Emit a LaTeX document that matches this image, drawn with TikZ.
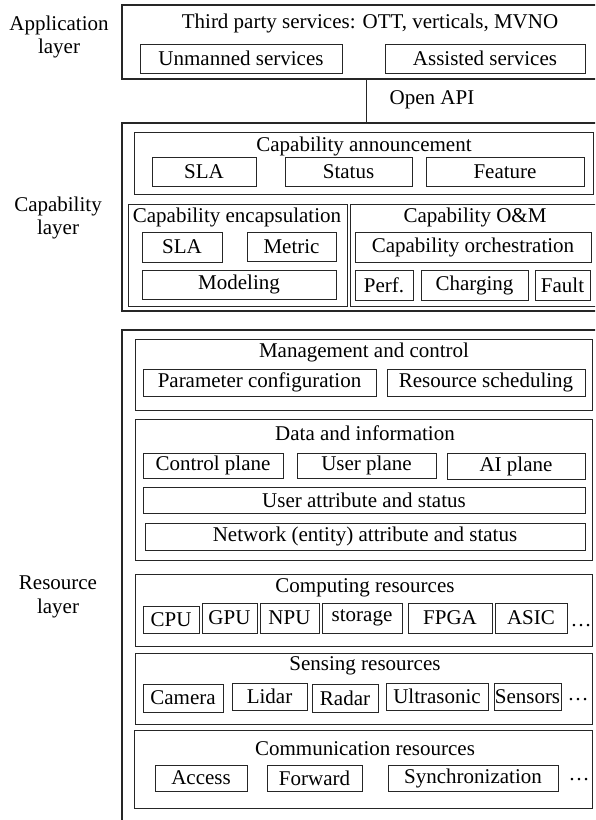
\documentclass[tikz,border=0pt]{standalone}
\usepackage{fontspec}
\setmainfont{Liberation Serif}
% box named #2 from (#3,#4) to (#5,#6), y counted downwards
\newcommand\rbox[7][]{%
  \node[bx,#1,minimum width={((#5)-(#3))*1pt},minimum height={((#6)-(#4))*1pt}]
    (#2) at ({((#3)+(#5))/2},{((#4)+(#6))/2}) {#7};}
\begin{document}
\begin{tikzpicture}[x=1pt,y=-1pt,
  bx/.style={draw=black!85, line width=0.9pt, rectangle, inner sep=0pt, outer sep=0pt, align=center},
  frame/.style={line width=1.2pt},
  ttl/.style={inner sep=0pt, outer sep=0pt, align=center},
  font=\rmfamily\fontsize{21}{23.5}\selectfont]
\clip (0,0) rectangle (595,820);

% ---------- application layer ----------
\node[ttl] (applbl) at (59,37) {Application\\layer};
\rbox[frame]{app}{122}{5}{640}{79}{}
\node[ttl] (appt) at (370,23) {Third party services: OTT, verticals, MVNO};
\rbox{unm}{140}{44}{342}{73}{Unmanned services}
\rbox{ass}{385}{44}{585}{73}{Assisted services}

% ---------- capability layer ----------
\node[ttl] (caplbl) at (58,218) {Capability\\layer};
\rbox[frame]{cap}{122}{123}{640}{311}{}
\rbox{ann}{134}{132}{593}{194}{}
\node[ttl] (annt) at (364,146) {Capability announcement};
\rbox{slaa}{152}{157}{256}{186}{SLA}
\rbox{sta}{285}{157}{412}{186}{Status}
\rbox{fea}{426}{157}{584}{186}{Feature}

\rbox{enc}{128}{204}{347}{306}{}
\node[ttl] (enct) at (237,217) {Capability encapsulation};
\rbox{slab}{142}{232}{222}{262}{SLA}
\rbox{met}{247}{232}{336}{261}{Metric}
\rbox{mod}{142}{270}{336}{299}{Modeling}

\rbox{om}{350}{204}{640}{306}{}
\node[ttl] (omt) at (475,217) {Capability O\&M};
\rbox{orc}{355}{232}{591}{262}{Capability orchestration}
\rbox{perf}{355}{270}{413}{300}{Perf.}
\rbox{chg}{421}{270}{528}{300}{Charging}
\rbox{flt}{535}{270}{590}{300}{Fault}

% open interface between the two upper layers
\coordinate (apix) at (366,0);
\draw[draw=black!85, line width=0.9pt] (app.south -| apix) -- (cap.north -| apix);
\node[ttl] (api) at (432,100) {Open API};

% ---------- resource layer ----------
\node[ttl] (reslbl) at (58,597) {Resource\\layer};
\rbox[frame]{res}{122}{330}{640}{900}{}

\rbox{mc}{135}{339}{592}{410}{}
\node[ttl] (mct) at (364,352) {Management and control};
\rbox{par}{143}{369}{376}{396}{Parameter configuration}
\rbox{rsch}{387}{369}{585}{396}{Resource scheduling}

\rbox{di}{135}{419}{592}{560}{}
\node[ttl] (dit) at (365,433) {Data and information};
\rbox{cp}{143}{453}{283}{478}{Control plane}
\rbox{up}{297}{453}{436}{478}{User plane}
\rbox{aip}{447}{453}{585}{479}{AI plane}
\rbox{uas}{143}{487}{585}{513}{User attribute and status}
\rbox{nas}{145}{523}{585}{550}{Network (entity) attribute and status}

\rbox{comp}{135}{574}{592}{646}{}
\node[ttl] (compt) at (365,588) {Computing resources};
\rbox{cpu}{143}{606}{199}{633}{CPU}
\rbox{gpu}{202}{603}{257}{633}{GPU}
\rbox{npu}{260}{603}{319}{633}{NPU}
\rbox{sto}{322}{603}{402}{633}{storage}
\rbox{fpga}{408}{603}{492}{633}{FPGA}
\rbox{asic}{495}{603}{567}{633}{ASIC}
\node[ttl,anchor=base] (compd) at (581,626) {\dots};

\rbox{sens}{135}{653}{592}{724}{}
\node[ttl] (senst) at (365,666) {Sensing resources};
\rbox{cam}{143}{684}{223}{712}{Camera}
\rbox{lid}{232}{683}{307}{710}{Lidar}
\rbox{rad}{312}{684}{378}{712}{Radar}
\rbox{ult}{386}{683}{488}{710}{Ultrasonic}
\rbox{sen}{494}{683}{561}{710}{Sensors}
\node[ttl,anchor=base] (sensd) at (578,700) {\dots};

\rbox{comm}{134}{730}{592}{808}{}
\node[ttl] (commt) at (365,749) {Communication resources};
\rbox{acc}{155}{765}{247}{791}{Access}
\rbox{fwd}{267}{765}{362}{791}{Forward}
\rbox{syn}{388}{765}{558}{791}{Synchronization}
\node[ttl,anchor=base] (commd) at (579,780) {\dots};
\end{tikzpicture}
\end{document}
